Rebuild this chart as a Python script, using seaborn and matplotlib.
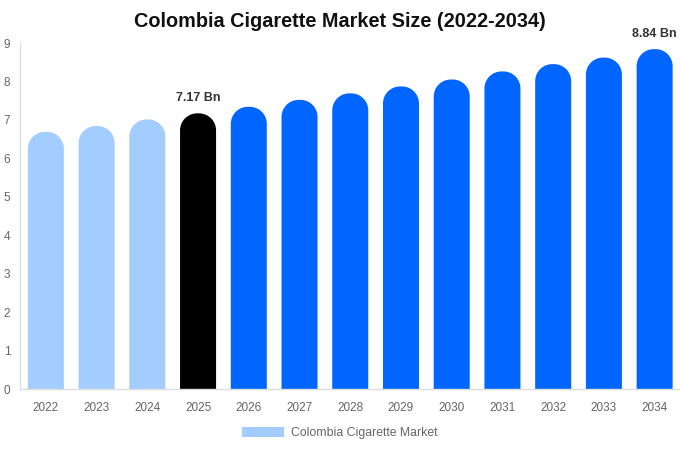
import matplotlib
matplotlib.use("Agg")
import matplotlib.pyplot as plt
import seaborn as sns
import pandas as pd
from matplotlib.patches import PathPatch, Patch
from matplotlib.path import Path

years = ["2022", "2023", "2024", "2025", "2026", "2027", "2028",
         "2029", "2030", "2031", "2032", "2033", "2034"]
market_size = [6.69, 6.84, 7.01, 7.17, 7.34, 7.52, 7.69, 7.87, 8.05, 8.26, 8.45, 8.62, 8.84]
labelled_years = {"2025": "7.17 Bn", "2034": "8.84 Bn"}
series_name = "Colombia Cigarette Market"

# past years light blue, base year black, forecast blue
bar_colors = ["#a3cdff"] * 3 + ["#000000"] + ["#0066ff"] * 9

df = pd.DataFrame({"Year": years, "Size": market_size})

sns.set_style("white")
plt.rcParams["font.family"] = ["Liberation Sans", "DejaVu Sans"]

fig = plt.figure(figsize=(6.8, 4.5), dpi=100)
ax = fig.add_axes([20 / 680, 1 - 389 / 450, 660 / 680, 346 / 450])

sns.barplot(data=df, x="Year", y="Size", hue="Year", palette=bar_colors,
            width=0.71, legend=False, ax=ax, saturation=1)

ax.set_xlim(-0.51, 12.5)
ax.set_ylim(0, 9)

# swap the plain bars for ones with round (circular arc) tops
px_x = 660 / (ax.get_xlim()[1] - ax.get_xlim()[0])
px_y = 346 / 9
rx = 17 / px_x
ry = 17 / px_y
k = 0.5523
for bar in list(ax.patches):
    x, w, h = bar.get_x(), bar.get_width(), bar.get_height()
    fc = bar.get_facecolor()
    bar.remove()
    verts = [(x, 0), (x, h - ry),
             (x, h - ry + k * ry), (x + rx - k * rx, h), (x + rx, h),
             (x + w - rx, h),
             (x + w - rx + k * rx, h), (x + w, h - ry + k * ry), (x + w, h - ry),
             (x + w, 0), (x, 0)]
    codes = [Path.MOVETO, Path.LINETO,
             Path.CURVE4, Path.CURVE4, Path.CURVE4,
             Path.LINETO,
             Path.CURVE4, Path.CURVE4, Path.CURVE4,
             Path.LINETO, Path.CLOSEPOLY]
    ax.add_patch(PathPatch(Path(verts, codes), facecolor=fc, edgecolor="none", lw=0))

for i, yr in enumerate(years):
    if yr in labelled_years:
        ax.annotate(labelled_years[yr], (i, market_size[i]), xytext=(0, 6.5),
                    textcoords="offset points", ha="center", va="bottom",
                    fontsize=9, fontweight="bold", color="#333333")

ax.set_yticks(range(0, 10))
ax.tick_params(axis="both", length=0, labelsize=8.5, colors="#666666")
ax.tick_params(axis="x", pad=9.5)
ax.tick_params(axis="y", pad=7)
ax.set_xlabel("")
ax.set_ylabel("")

for side in ["top", "right"]:
    ax.spines[side].set_visible(False)
for side in ["left", "bottom"]:
    ax.spines[side].set_color("#dddddd")
    ax.spines[side].set_linewidth(1)

fig.suptitle("Colombia Cigarette Market Size (2022-2034)", x=0.5, y=1 - 21.5 / 450,
             va="center", fontsize=14.3, fontweight="bold", color="#111111")

handle = Patch(facecolor="#a3cdff", edgecolor="none", label=series_name)
fig.legend(handles=[handle], loc="center", bbox_to_anchor=(0.5, 1 - 433 / 450),
           frameon=False, fontsize=8.8, labelcolor="#666666",
           handlelength=3.4, handleheight=0.9, handletextpad=0.6)

plt.savefig("out.png", dpi=100)
plt.close()
